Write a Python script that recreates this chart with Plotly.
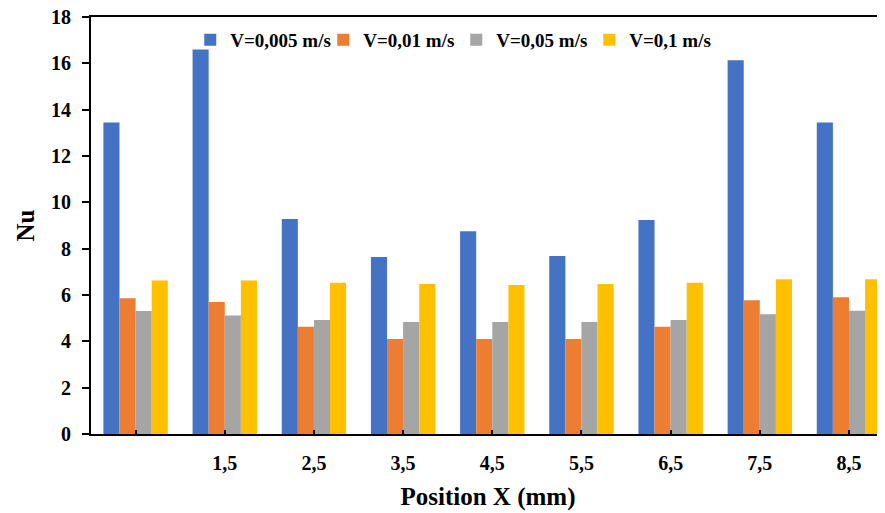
import plotly.graph_objects as go

positions = ["", "1,5", "2,5", "3,5", "4,5", "5,5", "6,5", "7,5", "8,5"]
series_names = ["V=0,005 m/s", "V=0,01 m/s", "V=0,05 m/s", "V=0,1 m/s"]
nu_v0005 = [13.45, 16.60, 9.28, 7.64, 8.75, 7.68, 9.24, 16.13, 13.45]
nu_v001 = [5.86, 5.70, 4.63, 4.10, 4.10, 4.10, 4.63, 5.77, 5.90]
nu_v005 = [5.31, 5.12, 4.92, 4.83, 4.83, 4.83, 4.92, 5.17, 5.32]
nu_v01 = [6.63, 6.63, 6.53, 6.47, 6.43, 6.47, 6.53, 6.68, 6.68]
colors = ["#4472C4", "#ED7D31", "#A5A5A5", "#FFC000"]

idx = list(range(len(positions)))
FONT = "Liberation Serif"

fig = go.Figure()
for name, vals, col in zip(series_names, [nu_v0005, nu_v001, nu_v005, nu_v01], colors):
    fig.add_trace(go.Bar(x=idx, y=vals, name=name, marker=dict(color=col, line=dict(width=0))))

# page body has an 8px margin: figure is 877x505 placed at (8,8)
xr = [-0.5, len(positions) - 0.5 - 0.096]
fig.update_layout(
    width=877, height=505,
    margin=dict(l=83, r=0, t=9, b=79, autoexpand=False),
    plot_bgcolor="white", paper_bgcolor="white",
    barmode="group", bargap=0.278, bargroupgap=0,
    font=dict(family=FONT, size=20, color="black", weight="bold"),
    showlegend=True,
    legend=dict(orientation="h", x=0.125, xanchor="left", y=0.945, yanchor="middle",
                font=dict(family=FONT, size=19, weight="bold"), bgcolor="rgba(0,0,0,0)",
                itemwidth=30, tracegroupgap=0, entrywidth=88, entrywidthmode="pixels"),
    xaxis=dict(range=xr, tickvals=idx, ticktext=positions, ticks="inside", ticklen=4,
               tickwidth=2, tickcolor="black", showline=True, linecolor="black", linewidth=2,
               mirror=True, showgrid=False, zeroline=False, ticklabelstandoff=10,
               ticklabeloverflow="allow",
               title=dict(text="Position X (mm)", font=dict(size=25, weight="bold"), standoff=14)),
    xaxis2=dict(range=xr, overlaying="x", anchor="y", tickvals=[i + 0.5 for i in idx[:-1]],
                ticks="outside", ticklen=8, tickwidth=2, tickcolor="black",
                showticklabels=False, showgrid=False, zeroline=False, showline=False),
    yaxis=dict(range=[0, 18], dtick=2, ticks="outside", ticklen=7, tickwidth=2, tickcolor="black",
               showline=True, linecolor="black", linewidth=2, showgrid=False, zeroline=False,
               ticklabelstandoff=7, ticklabeloverflow="allow",
               title=dict(text="Nu", font=dict(size=25, weight="bold"), standoff=9)),
    yaxis2=dict(range=[0, 18], overlaying="y", anchor="x", side="left", dtick=0.4,
                ticks="inside", ticklen=4, tickwidth=1.5, tickcolor="black",
                showticklabels=False, showgrid=False, zeroline=False, showline=False),
)
fig.write_html("out.html")
